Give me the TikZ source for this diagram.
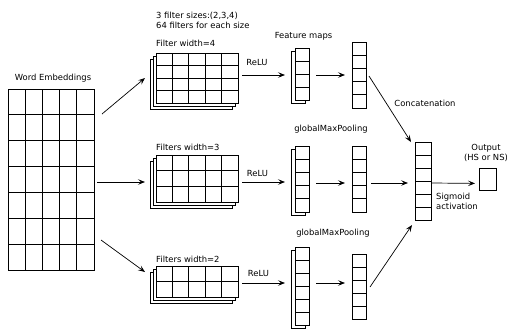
\documentclass[tikz,border=0pt]{standalone}
\usepackage{fontspec}
\setmainfont{DejaVu Sans}
\usetikzlibrary{arrows.meta,calc}

\tikzset{
  lbl/.style={inner sep=0pt, font=\fontsize{8.4}{10}\selectfont},
  arr/.style={-{Stealth[length=7pt,width=5.5pt,inset=3pt]}, line width=0.7pt},
  sheet/.style={draw, fill=white, line width=0.8pt},
  cells/.style n args={2}{draw, line width=0.8pt, fill=white, inner sep=0pt, outer sep=0pt,
    anchor=north west,
    path picture={
      \foreach \i in {0,...,#1}
        \draw[line width=0.8pt]
          ($(path picture bounding box.north west)!\i/#1!(path picture bounding box.north east)$) --
          ($(path picture bounding box.south west)!\i/#1!(path picture bounding box.south east)$);
      \foreach \j in {0,...,#2}
        \draw[line width=0.8pt]
          ($(path picture bounding box.north west)!\j/#2!(path picture bounding box.south west)$) --
          ($(path picture bounding box.north east)!\j/#2!(path picture bounding box.south east)$);
    }},
}

\begin{document}
\begin{tikzpicture}[x=1pt,y=-1pt]
\useasboundingbox (0,0) rectangle (507,333);

% word embedding matrix
\node[cells={5}{7}, minimum width=86pt, minimum height=181pt] (emb) at (8,89) {};
\node[lbl] (embl) at (53,78) {Word Embeddings};

% filter banks (two sheets behind each front grid)
\draw[sheet] (150,59) rectangle (232,109);
\draw[sheet] (153,56) rectangle (235,106);
\node[cells={5}{4}, minimum width=82pt, minimum height=50pt] (f4) at (156,53) {};
\draw[sheet] (150,161) rectangle (232,208);
\draw[sheet] (153,158) rectangle (235,205);
\node[cells={5}{3}, minimum width=82pt, minimum height=47pt] (f3) at (156,155) {};
\draw[sheet] (150,272) rectangle (232,303);
\draw[sheet] (153,269) rectangle (235,300);
\node[cells={5}{2}, minimum width=82pt, minimum height=31pt] (f2) at (156,266) {};

\node[lbl, anchor=west, align=left] (sizes) at (156,20) {3 filter sizes:(2,3,4)\\64 filters for each size};
\node[lbl, anchor=west] (w4) at (156,43) {Filter width=4};
\node[lbl, anchor=west] (w3) at (156,147) {Filters width=3};
\node[lbl, anchor=west] (w2) at (156,259) {Filters width=2};

% feature maps
\draw[sheet] (291,51) rectangle (305,103);
\node[cells={1}{4}, minimum width=14pt, minimum height=52pt] (fm4) at (295,48) {};
\draw[sheet] (291,149) rectangle (305,215);
\node[cells={1}{5}, minimum width=14pt, minimum height=66pt] (fm3) at (295,146) {};
\draw[sheet] (291,250) rectangle (305,328);
\node[cells={1}{6}, minimum width=14pt, minimum height=78pt] (fm2) at (295,247) {};
\node[lbl] (fml) at (303.5,36) {Feature maps};

% pooled vectors
\node[cells={1}{5}, minimum width=14pt, minimum height=66pt] (p4) at (352,42) {};
\node[cells={1}{5}, minimum width=14pt, minimum height=66pt] (p3) at (352,146) {};
\node[cells={1}{5}, minimum width=14pt, minimum height=65pt] (p2) at (352,254) {};
\node[lbl] (gmp1) at (331,129) {globalMaxPooling};
\node[lbl] (gmp2) at (333,233) {globalMaxPooling};

% concatenated vector and output
\node[cells={1}{6}, minimum width=16pt, minimum height=78pt] (cat) at (415,142) {};
\node[draw, line width=0.8pt, inner sep=0pt, anchor=north west, minimum width=17pt, minimum height=22pt] (out) at (479,168) {};
\node[lbl] (catl) at (425,103) {Concatenation};
\node[lbl, align=center] (outl) at (486,153) {Output\\(HS or NS)};
\node[lbl, anchor=west, align=left] (sigl) at (436,201) {Sigmoid\\activation};

% embeddings to filters
\draw[arr] ($(emb.north east)+(8,25)$) -- ($(f4.west)+(-11,0)$);
\draw[arr] ($(emb.east)+(3,2.5)$) -- ($(f3.west)+(-11,3.5)$);
\draw[arr] ($(emb.south east)+(7,-30)$) -- ($(f2.west)+(-11,-9.5)$);

% ReLU
\draw[arr] ($(f4.east)+(4,-3)$) -- ($(fm4.west)+(-10,1)$);
\draw[arr] ($(f3.east)+(4,3.5)$) -- ($(fm3.west)+(-10,3)$);
\draw[arr] ($(f2.east)+(4,1.5)$) -- ($(fm2.west)+(-10,-3)$);
\node[lbl] (r4) at (257,62) {ReLU};
\node[lbl] (r3) at (257.5,173) {ReLU};
\node[lbl] (r2) at (258.5,273) {ReLU};

% pooling
\draw[arr] ($(fm4.east)+(7,1)$) -- ($(p4.west)+(-7,0)$);
\draw[arr] ($(fm3.east)+(7,4)$) -- ($(p3.west)+(-7,4)$);
\draw[arr] ($(fm2.east)+(7,-3)$) -- ($(p2.west)+(-7,-3.5)$);

% concatenation
\draw[arr] ($(p4.east)+(3,1)$) -- ($(cat.north west)+(-4,0)$);
\draw[arr] ($(p3.east)+(5,4)$) -- ($(cat.west)+(-7,2)$);
\draw[arr] ($(p2.east)+(4,0.5)$) -- ($(cat.south west)+(-3,5)$);

% output
\draw[arr] ($(cat.east)+(1,2)$) -- ($(out.west)+(-4,4)$);
\end{tikzpicture}
\end{document}
